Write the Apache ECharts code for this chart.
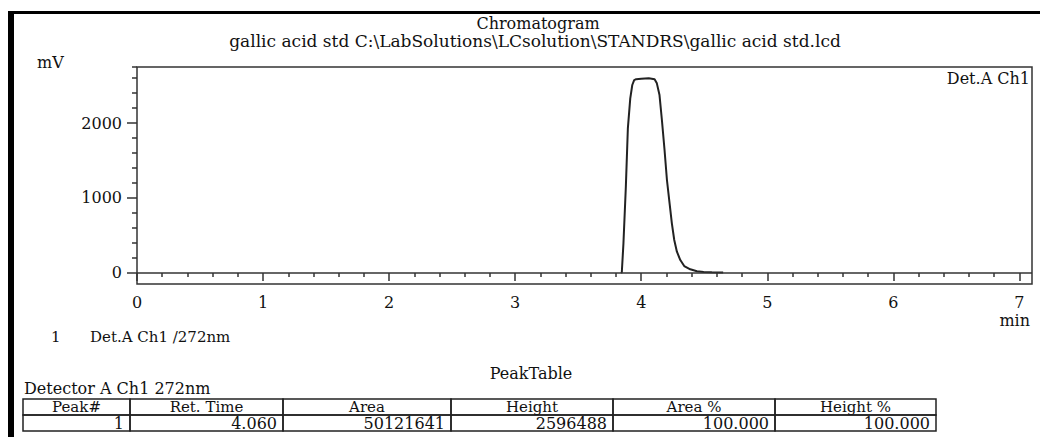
<!DOCTYPE html>
<html>
<head>
<meta charset="utf-8">
<script src="https://cdn.jsdelivr.net/npm/echarts@6/dist/echarts.min.js"></script>
<style>
html,body{margin:0;padding:0;background:#fff;}
#c{width:1040px;height:437px;}
</style>
</head>
<body>
<div id="c"></div>
<script>
// ---- texts ----
const chartTitle = 'Chromatogram';
const chartSubtitle = 'gallic acid std C:\\LabSolutions\\LCsolution\\STANDRS\\gallic acid std.lcd';
const yUnit = 'mV';
const xUnit = 'min';
const channelName = 'Det.A Ch1';
const legendIndex = '1';
const legendText = 'Det.A Ch1 /272nm';
const tableTitle = 'PeakTable';
const detectorLabel = 'Detector A Ch1 272nm';

// ---- data (time in min, signal in mV) ----
const retentionTime = [3.84, 3.846, 3.859, 3.878, 3.894, 3.913, 3.929, 3.944, 3.96, 4.0, 4.06, 4.106, 4.124, 4.145, 4.164, 4.185, 4.204, 4.225, 4.243, 4.262, 4.283, 4.31, 4.341, 4.389, 4.442, 4.495, 4.56, 4.65];
const signalMv      = [0, 10, 396, 1151, 1929, 2329, 2507, 2573, 2585, 2590, 2596, 2583, 2529, 2373, 2040, 1640, 1240, 929, 662, 440, 284, 173, 93, 49, 23, 13, 9, 7];
const baselineMv = 0;

// ---- tick labels ----
const xTickLabels = [0, 1, 2, 3, 4, 5, 6, 7];
const yTickLabels = [0, 1000, 2000];

// ---- peak table ----
const tableHeader = ['Peak#', 'Ret. Time', 'Area', 'Height', 'Area %', 'Height %'];
const tableRow = ['1', '4.060', '50121641', '2596488', '100.000', '100.000'];

// ---- layout ----
const FONT = '"DejaVu Serif", "Liberation Serif", serif';
const INK = '#111';
const X_MIN = 0, X_MAX = 7.1, Y_MIN = -147, Y_MAX = 2747;
const colEdges = [23, 130, 283, 451, 613, 775, 936];
const rowEdges = [399, 415, 431];

const xMinor = [];
for (let i = 1; i <= 35; i++) { if (i % 5 !== 0) xMinor.push(+(i * 0.2).toFixed(2)); }
const yMinor = [];
for (let v = 200; v <= 2600; v += 200) { if (v % 1000 !== 0) yMinor.push(v); }
yMinor.push(Y_MAX);

const seriesData = retentionTime.map((t, i) => [t, signalMv[i]]);

function txt(text, x, y, size, align, vAlign) {
  return {
    type: 'text', silent: true, z: 10,
    style: {
      text: text, x: x, y: y, fill: INK,
      font: size + 'px ' + FONT,
      align: align || 'left', verticalAlign: vAlign || 'middle',
      textAlign: align || 'left', textVerticalAlign: vAlign || 'middle'
    }
  };
}

const graphics = [];
// outer frame (thick left and top border)
graphics.push({ type: 'rect', silent: true, shape: { x: 8, y: 11, width: 1032, height: 3 }, style: { fill: '#000' } });
graphics.push({ type: 'rect', silent: true, shape: { x: 8, y: 11, width: 6, height: 426 }, style: { fill: '#000' } });

graphics.push(txt(chartTitle, 538, 23, 16, 'center'));
graphics.push(txt(chartSubtitle, 535, 41, 17, 'center'));
graphics.push(txt(yUnit, 37, 62, 16, 'left'));
graphics.push(txt(channelName, 1030, 78, 16, 'right'));
graphics.push(txt(xUnit, 1030, 320, 16, 'right'));
graphics.push(txt(legendIndex, 51, 337, 15, 'left'));
graphics.push(txt(legendText, 90, 337, 15, 'left'));
graphics.push(txt(tableTitle, 531, 373, 16, 'center'));
graphics.push(txt(detectorLabel, 24, 388, 16, 'left'));

// peak table
for (let r = 0; r < 2; r++) {
  for (let c = 0; c < tableHeader.length; c++) {
    const x0 = colEdges[c], x1 = colEdges[c + 1];
    const y0 = rowEdges[r], y1 = rowEdges[r + 1];
    graphics.push({
      type: 'rect', silent: true,
      shape: { x: x0, y: y0, width: x1 - x0, height: y1 - y0 },
      style: { fill: 'none', stroke: '#222', lineWidth: 1.5 }
    });
    const yc = (y0 + y1) / 2;
    if (r === 0) graphics.push(txt(tableHeader[c], (x0 + x1) / 2, yc, 15, 'center'));
    else graphics.push(txt(tableRow[c], x1 - 6, yc, 16, 'right'));
  }
}

const axisLineStyle = { color: '#333', width: 1.5 };
const labelStyle = { fontFamily: FONT, fontSize: 16, color: INK };

const option = {
  animation: false,
  backgroundColor: '#fff',
  grid: { left: 137, right: 8, top: 67, bottom: 153, show: true, borderColor: '#333', borderWidth: 1.5, backgroundColor: 'transparent' },
  xAxis: [
    {
      type: 'value', min: X_MIN, max: X_MAX, position: 'bottom',
      axisLine: { show: false },
      splitLine: { show: false },
      axisTick: { show: true, length: 8, customValues: xTickLabels, lineStyle: axisLineStyle },
      axisLabel: Object.assign({ show: true, margin: 10, customValues: xTickLabels, formatter: v => String(v) }, labelStyle)
    },
    {
      type: 'value', min: X_MIN, max: X_MAX, position: 'bottom',
      axisLine: { show: false },
      splitLine: { show: false },
      axisTick: { show: true, length: 4, customValues: xMinor, lineStyle: axisLineStyle },
      axisLabel: { show: false }
    }
  ],
  yAxis: [
    {
      type: 'value', min: Y_MIN, max: Y_MAX, position: 'left',
      axisLine: { show: false },
      splitLine: { show: false },
      axisTick: { show: true, length: 10, customValues: yTickLabels, lineStyle: axisLineStyle },
      axisLabel: Object.assign({ show: true, margin: 15, customValues: yTickLabels, formatter: v => String(v) }, labelStyle)
    },
    {
      type: 'value', min: Y_MIN, max: Y_MAX, position: 'left',
      axisLine: { show: false },
      splitLine: { show: false },
      axisTick: { show: true, length: 5, customValues: yMinor, lineStyle: axisLineStyle },
      axisLabel: { show: false }
    }
  ],
  series: [
    {
      type: 'line', xAxisIndex: 0, yAxisIndex: 0,
      data: seriesData,
      showSymbol: false, symbol: 'none',
      lineStyle: { color: '#222', width: 2 },
      silent: true,
      markLine: {
        silent: true, symbol: ['none', 'none'],
        label: { show: false },
        lineStyle: { color: '#333', width: 1.5, type: 'solid' },
        data: [{ yAxis: baselineMv }]
      }
    }
  ],
  graphic: graphics
};

const chart = echarts.init(document.getElementById('c'), null, { renderer: 'svg' });
chart.setOption(option);
</script>
</body>
</html>
